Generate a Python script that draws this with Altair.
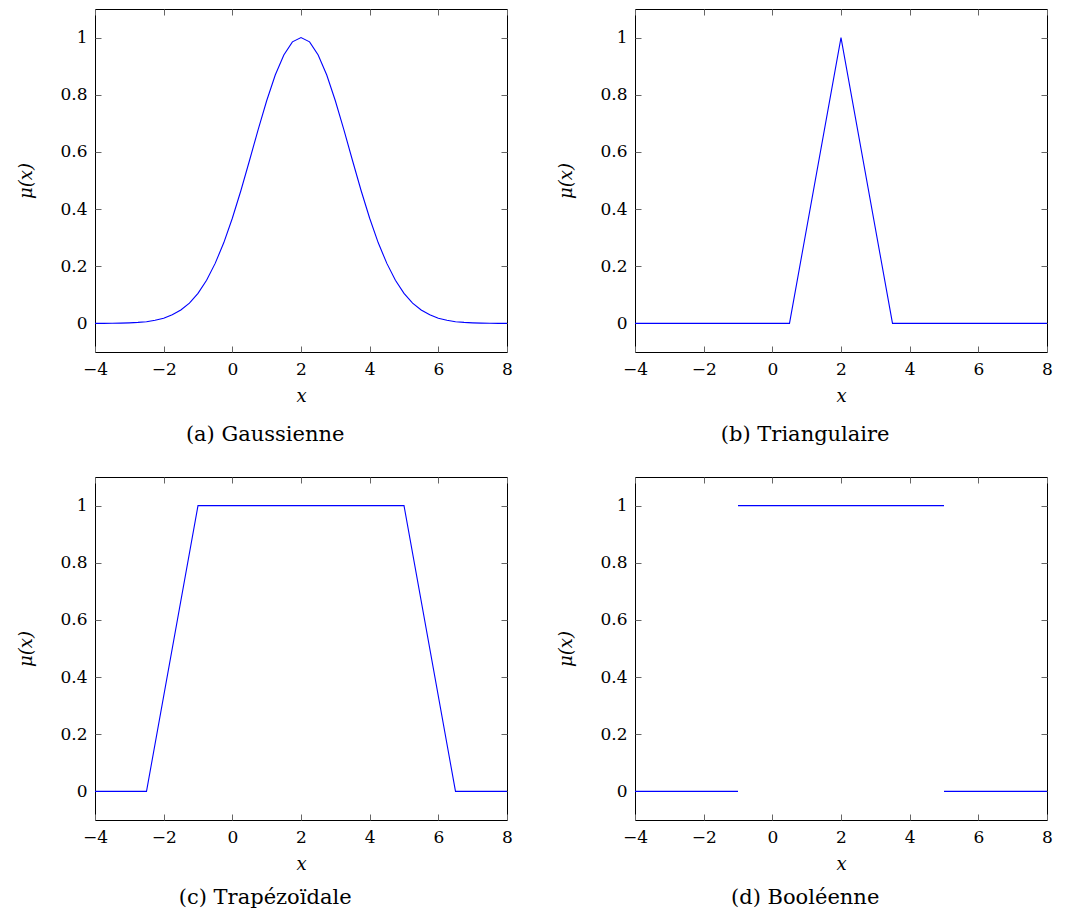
import altair as alt
import pandas as pd

# ---- data ----
gauss_x = [-4, -3.75, -3.5, -3.25, -3, -2.75, -2.5, -2.25, -2, -1.75, -1.5, -1.25, -1, -0.75,
           -0.5, -0.25, 0, 0.25, 0.5, 0.75, 1, 1.25, 1.5, 1.75, 2,
           2.25, 2.5, 2.75, 3, 3.25, 3.5, 3.75, 4, 4.25, 4.5, 4.75, 5, 5.25, 5.5, 5.75,
           6, 6.25, 6.5, 6.75, 7, 7.25, 7.5, 7.75, 8]
gauss_y = [0.0001, 0.0003, 0.0005, 0.001, 0.002, 0.0036, 0.006, 0.011, 0.018, 0.030, 0.047, 0.071,
           0.105, 0.151, 0.21, 0.282, 0.368, 0.465, 0.57, 0.677, 0.779, 0.869, 0.939, 0.985, 1.0,
           0.985, 0.939, 0.869, 0.779, 0.677, 0.57, 0.465, 0.368, 0.282, 0.21, 0.151, 0.105,
           0.071, 0.047, 0.030, 0.018, 0.011, 0.006, 0.0036, 0.002, 0.001, 0.0005, 0.0003, 0.0001]

tri_x = [-4, 0.5, 2, 3.5, 8]
tri_y = [0, 0, 1, 0, 0]

trap_x = [-4, -2.5, -1, 5, 6.5, 8]
trap_y = [0, 0, 1, 1, 0, 0]

bool_x = [-4, -1, -1, 5, 5, 8]
bool_y = [0, 0, 1, 1, 0, 0]
bool_seg = ["a", "a", "b", "b", "c", "c"]

captions = ["(a) Gaussienne", "(b) Triangulaire", "(c) Trapézoïdale", "(d) Booléenne"]
x_ticks = [-4, -2, 0, 2, 4, 6, 8]
y_ticks = [0, 0.2, 0.4, 0.6, 0.8, 1]

FONT = "DejaVu Serif"
W, H = 412, 343
TICK = 6
TICKCOL = "#666666"


def panel(df, caption, cap_offset, seg=False):
    xs = alt.Scale(domain=[-4, 8], nice=False, zero=False)
    ys = alt.Scale(domain=[-0.1, 1.1], nice=False, zero=False)
    common = dict(domain=False, grid=False, offset=-TICK, tickSize=TICK,
                  tickColor=TICKCOL, tickWidth=1, labelFont=FONT, labelFontSize=17,
                  labelColor="black", titleFont=FONT, titleFontSize=18,
                  titleFontWeight="normal", titleFontStyle="italic", titleColor="black",
                  format="~f", labelFlush=False, labelOverlap=False)
    bx = dict(common); bx.update(values=x_ticks, orient="bottom", labelPadding=9,
                                 title="x", titlePadding=10)
    ly = dict(common); ly.update(values=y_ticks, orient="left", labelPadding=8,
                                 title="μ(x)", titlePadding=24)
    tx = dict(common); tx.update(values=x_ticks, orient="top", labels=False, title=None)
    ry = dict(common); ry.update(values=y_ticks, orient="right", labels=False, title=None,
                                 minExtent=0)

    enc_main = dict(x=alt.X("x:Q", scale=xs, axis=alt.Axis(**bx)),
                    y=alt.Y("y:Q", scale=ys, axis=alt.Axis(**ly)))
    enc_mirror = dict(x=alt.X("x:Q", scale=xs, axis=alt.Axis(**tx)),
                      y=alt.Y("y:Q", scale=ys, axis=alt.Axis(**ry)))
    if seg:
        enc_main["detail"] = "seg:N"
        enc_mirror["detail"] = "seg:N"
    line = alt.Chart(df).mark_line(color="#0000ff", strokeWidth=1.1).encode(**enc_main)
    mirror = alt.Chart(df).mark_line(opacity=0).encode(**enc_mirror)
    return alt.layer(line, mirror).resolve_axis(x="independent", y="independent").properties(
        width=W, height=H,
        title=alt.TitleParams(caption, orient="bottom", font=FONT, fontSize=21,
                              fontWeight="normal", color="black", anchor="middle",
                              frame="bounds", offset=cap_offset),
    )


dfa = pd.DataFrame({"x": gauss_x, "y": gauss_y})
dfb = pd.DataFrame({"x": tri_x, "y": tri_y})
dfc = pd.DataFrame({"x": trap_x, "y": trap_y})
dfd = pd.DataFrame({"x": bool_x, "y": bool_y, "seg": bool_seg})

row1 = alt.hconcat(panel(dfa, captions[0], 19), panel(dfb, captions[1], 19), spacing=44)
row2 = alt.hconcat(panel(dfc, captions[2], 14), panel(dfd, captions[3], 14, seg=True), spacing=44)
chart = alt.vconcat(row1, row2, spacing=30).properties(
    padding={"left": 9, "top": 0, "right": 0, "bottom": 0}
).configure_view(stroke="black", strokeWidth=1)

chart.save("out.html", embed_options={"renderer": "svg", "actions": False})
